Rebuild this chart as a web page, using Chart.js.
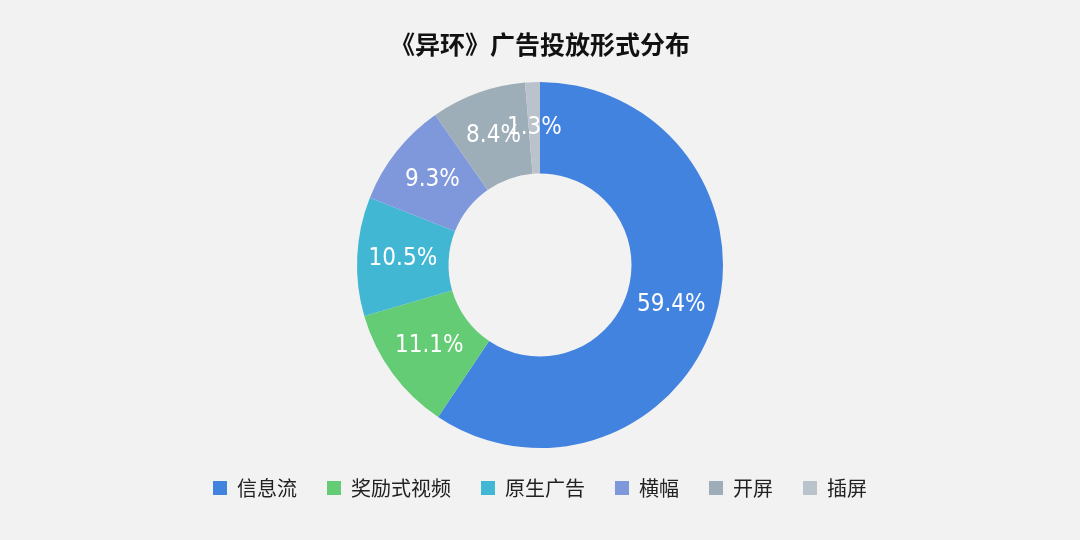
<!DOCTYPE html>
<html><head><meta charset="utf-8">
<script src="https://cdn.jsdelivr.net/npm/chart.js@4"></script>
<style>html,body{margin:0;padding:0;background:#f2f2f2}#w{width:1080px;height:540px}</style>
</head><body><div id="w"><canvas id="c" width="1080" height="540"></canvas></div>
<script>
const categories=["信息流","奖励式视频","原生广告","横幅","开屏","插屏"];
const values=[59.4,11.1,10.5,9.3,8.4,1.3];
const colors=["#4383e0","#64cc74","#42b7d3","#7f98dc","#9eaeb8","#bac3cb"];
const labelPlugin={id:"lbl",afterDatasetsDraw(ch){const ctx=ch.ctx;const m=ch.getDatasetMeta(0);ctx.save();ctx.fillStyle="#fff";ctx.font="500 24px 'DejaVu Sans Condensed','Roboto'";ctx.textAlign="center";ctx.textBaseline="middle";
m.data.forEach((a,i)=>{const p=a.getProps(["startAngle","endAngle","innerRadius","outerRadius","x","y"],true);const ang=(p.startAngle+p.endAngle)/2;const r=(p.innerRadius+p.outerRadius)/2;ctx.fillText(values[i].toFixed(1)+"%",p.x+Math.cos(ang)*r,p.y+Math.sin(ang)*r);});ctx.restore();}};
new Chart(document.getElementById("c"),{type:"doughnut",data:{labels:categories,datasets:[{data:values,backgroundColor:colors,borderWidth:0}]},
options:{responsive:false,animation:false,cutout:"50%",layout:{padding:{top:0,bottom:32}},
plugins:{title:{display:true,text:"《异环》广告投放形式分布",color:"#111",font:{size:25,weight:"bold",family:"'Noto Sans CJK SC'"},padding:{top:29,bottom:23}},
legend:{position:"bottom",labels:{color:"#222",font:{size:20,family:"'Noto Sans CJK SC'"},boxWidth:14,boxHeight:14,padding:30}},tooltip:{enabled:false}}},plugins:[labelPlugin]});
</script></body></html>
